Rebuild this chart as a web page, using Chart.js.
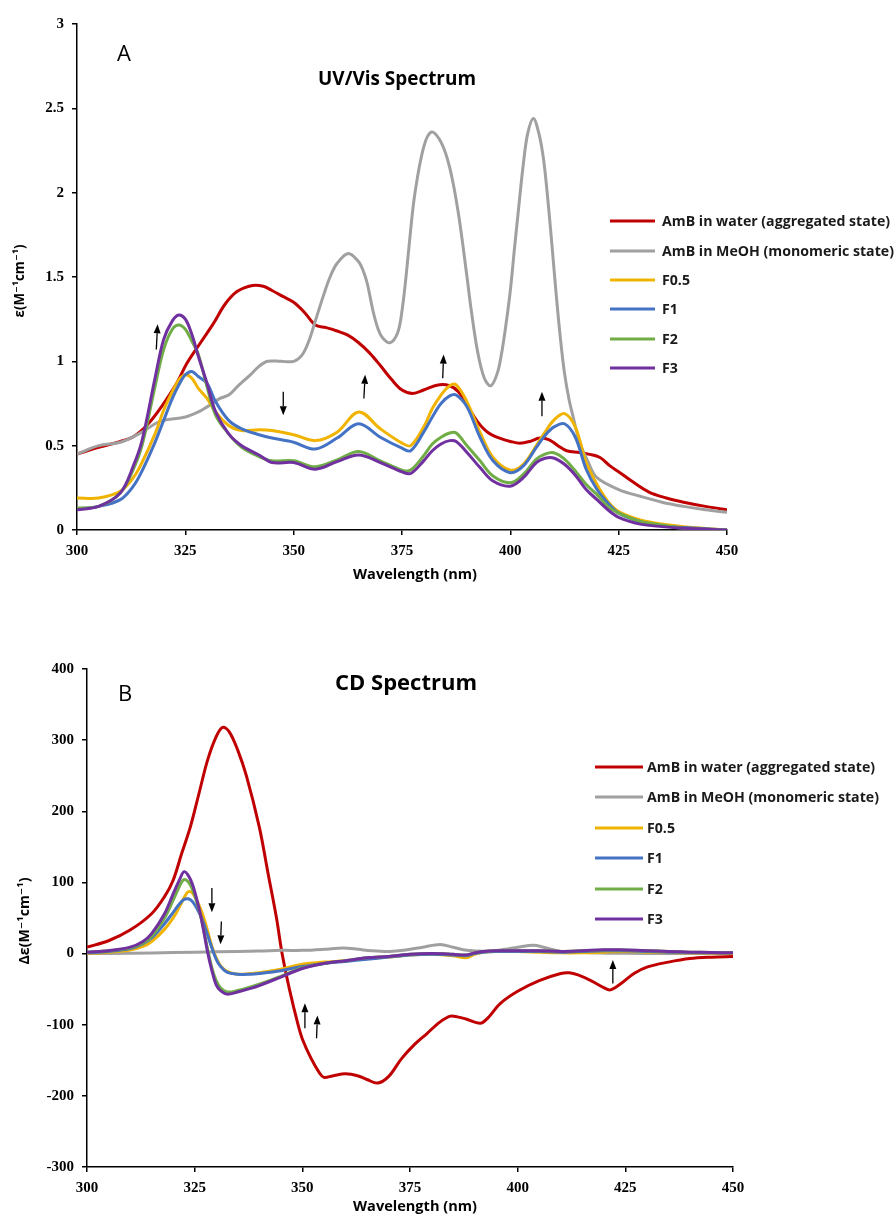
<!DOCTYPE html>
<html lang="en">
<head>
    <meta charset="UTF-8">
    <title>AmB UV/Vis and CD spectra</title>
    <script src="https://cdn.jsdelivr.net/npm/chart.js"></script>
    <style>
        body { margin: 0; background: #fff; width: 896px; height: 1217px; overflow: hidden; position: relative; }
        .wrap { position: absolute; left: 0; width: 896px; }
        #uvWrap { top: 0; height: 600px; }
        #cdWrap { top: 600px; height: 617px; }
    </style>
</head>
<body>
    <div class="wrap" id="uvWrap"><canvas id="uvChart"></canvas></div>
    <div class="wrap" id="cdWrap"><canvas id="cdChart"></canvas></div>

    <script>
        // ---- series names / colours ----
        const seriesNames = ['AmB in water (aggregated state)', 'AmB in MeOH (monomeric state)', 'F0.5', 'F1', 'F2', 'F3'];
        const seriesColors = ['#C00000', '#A0A0A0', '#F0B400', '#4472C4', '#70AD47', '#7030A0'];

        // ---- A: UV/Vis ----
        const uvWaterNm = [300,305,310,313,316.5,320,323,325.4,328.5,331.5,334.2,337,340.5,343,345,347.5,350,352.5,355,357.5,360,362.5,365,367.5,370,372.5,375,377.5,380,383.3,386,388,390,392.5,395,398,400,402.2,404.5,406.8,409,411,413,416,418,420.7,423,425.3,428,432,436,440,445,450];
        const uvWater   = [.45,.49,.525,.553,.632,.75,.87,.99,1.11,1.225,1.34,1.415,1.45,1.445,1.42,1.385,1.35,1.29,1.215,1.20,1.18,1.155,1.11,1.05,.975,.895,.83,.81,.83,.86,.855,.82,.74,.64,.575,.54,.525,.515,.525,.545,.535,.50,.47,.46,.45,.43,.38,.34,.29,.225,.19,.165,.14,.12];

        const uvMeohNm = [300,305,310,315,318,320,325,328,330,333,335,337,340,342,344,347,350,352,353.5,355,357,358.4,360,362.6,365,366,367,368.3,369.5,370.5,372.2,374,375,376,377,378,380,381.8,384,386,388,390,391,392.5,394,395.5,397,398,399,400,401,402,403,404,405.3,406.5,407.6,408.5,409.5,410.5,411.5,412.5,413.5,414.5,416,418,420,425,430,435,440,445,450];
        const uvMeoh   = [.45,.50,.52,.58,.63,.65,.67,.70,.73,.78,.80,.85,.92,.97,1.0,1.0,1.0,1.04,1.12,1.24,1.40,1.50,1.58,1.64,1.59,1.54,1.46,1.30,1.19,1.14,1.11,1.17,1.30,1.52,1.78,2.0,2.27,2.36,2.30,2.15,1.88,1.50,1.30,1.05,.90,.855,.93,1.05,1.22,1.42,1.68,1.93,2.17,2.35,2.44,2.36,2.21,2.0,1.72,1.42,1.15,.93,.78,.67,.52,.40,.31,.24,.20,.165,.14,.12,.105];

        const uvFNm = [300,305,310,313,315,318,320,322,323.5,325,326.5,328,330,332,335,338,342,345,350,355,360,365,370,375,377,380,382,384,386,387.5,390,393,396,400,403,406,408,410,412.5,415,417.5,420,422.5,425,430,435,440,450];
        const uvF05 = [.19,.19,.23,.31,.40,.57,.71,.82,.89,.92,.90,.84,.78,.70,.62,.59,.595,.59,.565,.53,.58,.70,.60,.515,.50,.61,.72,.80,.855,.86,.76,.58,.43,.355,.39,.50,.58,.65,.69,.61,.40,.27,.17,.11,.06,.035,.02,0];
        const uvF1  = [.125,.14,.18,.26,.35,.52,.65,.78,.86,.92,.94,.91,.87,.76,.65,.60,.565,.545,.52,.48,.545,.63,.55,.485,.47,.58,.67,.75,.795,.80,.73,.55,.41,.34,.38,.49,.56,.61,.63,.55,.36,.24,.16,.10,.05,.025,.015,0];
        const uvF2  = [.13,.14,.22,.36,.50,.85,1.07,1.19,1.215,1.19,1.12,1.04,.85,.68,.57,.49,.435,.41,.41,.375,.415,.465,.41,.355,.355,.44,.51,.55,.575,.575,.50,.41,.32,.28,.33,.42,.45,.458,.42,.35,.27,.21,.14,.10,.05,.03,.01,0];
        const uvF3  = [.12,.14,.22,.38,.53,.90,1.13,1.24,1.275,1.25,1.16,1.03,.87,.70,.57,.50,.445,.40,.40,.36,.405,.445,.40,.345,.335,.41,.47,.51,.53,.525,.46,.37,.29,.26,.31,.40,.425,.427,.39,.325,.24,.18,.12,.075,.035,.02,.01,0];

        const uvXTicks = [300, 450, 25];
        const uvYTicks = [0, 3, 0.5];
        // arrows: [nm tail, value tail, nm head, value head]
        const uvArrows = [[318.3,1.07,318.6,1.22],[347.6,0.82,347.6,0.68],[366.2,0.78,366.5,0.92],[384.4,0.90,384.6,1.04],[407.3,0.675,407.3,0.82]];

        // ---- B: CD ----
        const cdWaterNm = [300,305,310,315,318,320,322,324,326,328,330,331.5,333,335,337,340,342,344,345.3,347,349,350,352,354,355,357,360,363,365,367.5,370,373,376,379,382,384.4,386,388,391.3,393,396,400,405,410,412,414,417,420,421.5,424,427,430,435,440,445,450];
        const cdWater   = [9,18,33,56,80,103,141,178,225,272,305,318,312,286,250,178,114,50,0,-50,-100,-120,-147,-168,-174,-172,-169,-172,-177,-182,-173,-148,-128,-112,-96,-88,-89,-92,-98,-91,-70,-53,-38,-28,-27,-30,-38,-48,-51,-42,-28,-19,-12,-7,-5,-4];

        const cdMeohNm = [300,310,320,330,340,345,350,355,359.5,363,366,370.3,374,378,382,385,388.2,392.9,397,400,403.7,406,409.9,414,419.2,425,434.7,450];
        const cdMeoh   = [0,0.5,1.5,2.5,3.5,4.5,4.5,6,8,6,4,3,5,9,12.7,9,4.6,3.2,6,9,11.7,9,3.2,2,0.9,0.5,0,0];

        const cdFNm = [300,305,310,313,315,318,320,321.5,322.5,323.5,324.5,326,327,328,329,330,331,332.5,335,338,340,345,350,355,360,365,370,375,380,385,388,390,392,395,400,405,410,415,420,425,430,435,440,445,450];
        const cdF05 = [0,2,5,10,17,34,50,66,78,87,85,68,52,32,10,-6,-17,-25,-29,-28,-27,-22,-15,-12,-10,-7,-5,-2,-1,-3,-6,-1,2,3,3,2,1,1,2,3,2,1.5,1,0.5,0];
        const cdF1  = [1,3,7,14,22,42,58,70,76,77,73,58,44,26,8,-8,-18,-26,-29,-29,-28,-24,-18,-14,-11,-8,-5,-2,-1,-2,-3,0,2,3,3,3,2,3,4,4,3,2,1.5,1,1];
        const cdF2  = [2,4,8,15,24,50,75,95,104,101,90,62,36,6,-20,-38,-48,-54,-52,-47,-43,-32,-20,-14,-10,-6,-4,-1,0,-1,-2,1,3,4,4,4,3,4,5,5,4,3,2,1.5,1];
        const cdF3  = [2,4,9,17,28,56,84,104,115,110,97,64,35,2,-24,-44,-52,-57,-54,-49,-45,-33,-21,-14,-10,-6,-4,-1,0,-1,-2,1,3,4,4,4,3,4,5.5,5,4,3,2,1.5,1];

        const cdXTicks = [300, 450, 25];
        const cdYTicks = [-300, 400, 100];
        const cdArrows = [[329,92,329,58],[331.2,45,331.0,13],[350.6,-105,350.6,-70],[353.3,-119,353.5,-87],[422.1,-42,422.1,-9]];

        const SANS = '"Open Sans", "DejaVu Sans", sans-serif';
        const SERIF = '"Liberation Serif", "DejaVu Serif", serif';

        function pts(xs, ys) { return xs.map((x, i) => ({ x: x, y: ys[i] })); }

        function fitFont(ctx, text, width, weight) {
            ctx.font = weight + ' 20px ' + SANS;
            const s = 20 * width / ctx.measureText(text).width;
            return weight + ' ' + s.toFixed(2) + 'px ' + SANS;
        }

        // titles, legend, axis titles and arrows drawn over the chart
        const overlay = {
            id: 'overlay',
            afterDraw(chart, args, o) {
                const ctx = chart.ctx, xs = chart.scales.x, ys = chart.scales.y;
                ctx.save();
                ctx.fillStyle = '#000';
                ctx.textBaseline = 'middle';

                ctx.textAlign = 'left';
                ctx.font = '22px ' + SANS;
                ctx.fillText(o.letter, o.letterX, o.letterY);

                ctx.textAlign = 'center';
                ctx.font = fitFont(ctx, o.title, o.titleW, 'bold');
                ctx.fillText(o.title, o.titleX, o.titleY);

                ctx.font = fitFont(ctx, 'Wavelength (nm)', 124, 'bold');
                ctx.fillText('Wavelength (nm)', o.xTitleX, o.xTitleY);

                ctx.save();
                ctx.translate(o.yTitleX, o.yTitleY);
                ctx.rotate(-Math.PI / 2);
                ctx.font = fitFont(ctx, o.yTitle, o.yTitleW, 'bold');
                ctx.fillText(o.yTitle, 0, 0);
                ctx.restore();

                // legend
                ctx.textAlign = 'left';
                ctx.font = fitFont(ctx, seriesNames[1], o.legW, 'bold');
                chart.data.datasets.forEach((ds, i) => {
                    const y = o.legY[i];
                    ctx.strokeStyle = ds.borderColor;
                    ctx.lineWidth = 3;
                    ctx.beginPath();
                    ctx.moveTo(o.legX0, y);
                    ctx.lineTo(o.legX1, y);
                    ctx.stroke();
                    ctx.fillStyle = '#1a1a1a';
                    ctx.fillText(ds.label, o.legTx, y + 1);
                });

                // arrows
                ctx.strokeStyle = '#000';
                ctx.fillStyle = '#000';
                ctx.lineWidth = 1.3;
                o.arrows.forEach(a => {
                    const x0 = xs.getPixelForValue(a[0]), y0 = ys.getPixelForValue(a[1]);
                    const x1 = xs.getPixelForValue(a[2]), y1 = ys.getPixelForValue(a[3]);
                    const ang = Math.atan2(y1 - y0, x1 - x0);
                    const hl = 9, hw = 3.5;
                    const bx = x1 - hl * Math.cos(ang), by = y1 - hl * Math.sin(ang);
                    ctx.beginPath();
                    ctx.moveTo(x0, y0);
                    ctx.lineTo(bx, by);
                    ctx.stroke();
                    ctx.beginPath();
                    ctx.moveTo(x1, y1);
                    ctx.lineTo(bx + hw * Math.sin(ang), by - hw * Math.cos(ang));
                    ctx.lineTo(bx - hw * Math.sin(ang), by + hw * Math.cos(ang));
                    ctx.closePath();
                    ctx.fill();
                });
                ctx.restore();
            }
        };

        function makeDatasets(list, width) {
            return list.map((d, i) => ({
                label: seriesNames[i],
                data: d,
                borderColor: seriesColors[i],
                backgroundColor: seriesColors[i],
                borderWidth: width,
                pointRadius: 0,
                tension: 0.35,
                fill: false,
                order: 6 - i
            }));
        }

        function axis(t, fit, pad) {
            return {
                type: 'linear',
                min: t[0], max: t[1],
                ticks: {
                    stepSize: t[2], color: '#000', padding: pad,
                    font: { family: SERIF, weight: 'bold', size: 15 },
                    callback: v => String(v)
                },
                grid: { drawOnChartArea: false, drawTicks: true, tickLength: 5, color: '#000', lineWidth: 1.5 },
                border: { display: true, color: '#000', width: 1.5 },
                afterFit: fit
            };
        }

        function makeChart(id, datasets, xt, yt, box, ov) {
            return new Chart(document.getElementById(id), {
                type: 'line',
                data: { datasets: datasets },
                options: {
                    responsive: true,
                    maintainAspectRatio: false,
                    animation: false,
                    layout: { padding: { top: box.top, right: box.right, left: 0, bottom: 0 } },
                    scales: {
                        x: axis(xt, s => { s.height = box.bottom; }, 7),
                        y: axis(yt, s => { s.width = box.left; }, 8)
                    },
                    plugins: { legend: { display: false }, tooltip: { enabled: false }, overlay: ov }
                },
                plugins: [overlay]
            });
        }

        makeChart('uvChart',
            makeDatasets([pts(uvWaterNm, uvWater), pts(uvMeohNm, uvMeoh), pts(uvFNm, uvF05), pts(uvFNm, uvF1), pts(uvFNm, uvF2), pts(uvFNm, uvF3)], 3),
            uvXTicks, uvYTicks,
            { top: 24, right: 169, bottom: 70, left: 77 },
            {
                letter: 'A', letterX: 117, letterY: 55,
                title: 'UV/Vis Spectrum', titleW: 158, titleX: 397, titleY: 80,
                xTitleX: 415, xTitleY: 575,
                yTitle: 'ε(M⁻¹cm⁻¹)', yTitleW: 73, yTitleX: 20, yTitleY: 281,
                legX0: 610, legX1: 655, legTx: 662, legW: 232, legY: [221, 251, 280, 309, 339, 368],
                arrows: uvArrows
            });

        makeChart('cdChart',
            makeDatasets([pts(cdWaterNm, cdWater), pts(cdMeohNm, cdMeoh), pts(cdFNm, cdF05), pts(cdFNm, cdF1), pts(cdFNm, cdF2), pts(cdFNm, cdF3)], 3),
            cdXTicks, cdYTicks,
            { top: 69, right: 163, bottom: 50, left: 87 },
            {
                letter: 'B', letterX: 118, letterY: 95,
                title: 'CD Spectrum', titleW: 142, titleX: 406, titleY: 84,
                xTitleX: 415, xTitleY: 607,
                yTitle: 'Δε(M⁻¹cm⁻¹)', yTitleW: 87, yTitleX: 25, yTitleY: 321,
                legX0: 595, legX1: 643, legTx: 647, legW: 232, legY: [167, 197, 228, 258, 289, 319],
                arrows: cdArrows
            });
    </script>
</body>
</html>
